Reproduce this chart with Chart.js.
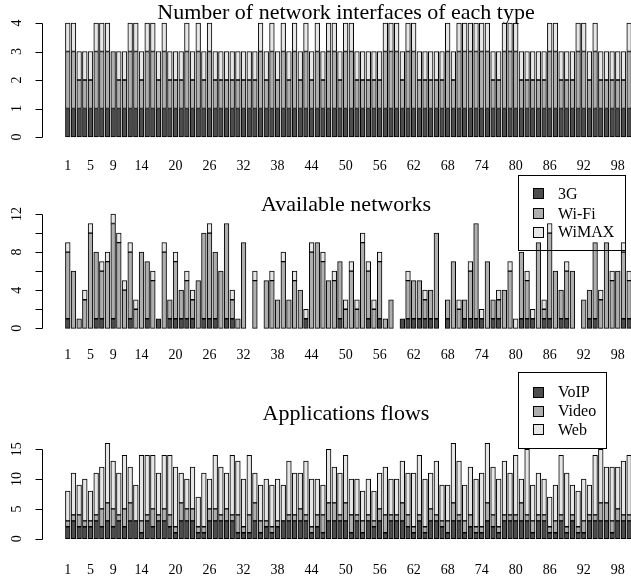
<!DOCTYPE html>
<html>
<head>
<meta charset="utf-8">
<script src="https://cdn.jsdelivr.net/npm/chart.js@4.4.1/dist/chart.umd.min.js"></script>
<style>
  html, body { margin: 0; padding: 0; background: #fff; overflow: hidden; }
  #wrap { position: relative; width: 631px; height: 579px; }
  canvas { position: absolute; left: 0; }
</style>
</head>
<body>
<div id="wrap">
  <canvas id="c1" width="631" height="170" style="top:0px"></canvas>
  <canvas id="c2" width="631" height="190" style="top:170px"></canvas>
  <canvas id="c3" width="631" height="219" style="top:360px"></canvas>
</div>
<script>
// Node identifiers (one bar per node)
const nodes = [
  1,2,3,4,5,6,7,8,9,10,11,12,13,14,15,16,17,18,19,20,
  21,22,23,24,25,26,27,28,29,30,31,32,33,34,35,36,37,38,39,40,
  41,42,43,44,45,46,47,48,49,50,51,52,53,54,55,56,57,58,59,60,
  61,62,63,64,65,66,67,68,69,70,71,72,73,74,75,76,77,78,79,80,
  81,82,83,84,85,86,87,88,89,90,91,92,93,94,95,96,97,98,99,100
];
// Node labels printed under the bars
const xTickLabels = [1,5,9,14,20,26,32,38,44,50,56,62,68,74,80,86,92,98];

// Number of network interfaces of each type
const ifc3G = [
  1,1,1,1,1,1,1,1,1,1, 1,1,1,1,1,1,1,1,1,1, 1,1,1,1,1,1,1,1,1,1, 1,1,1,1,1,1,1,1,1,1,
  1,1,1,1,1,1,1,1,1,1, 1,1,1,1,1,1,1,1,1,1, 1,1,1,1,1,1,1,1,1,1, 1,1,1,1,1,1,1,1,1,1,
  1,1,1,1,1,1,1,1,1,1, 1,1,1,1,1,1,1,1,1,1
];
const ifcWiFi = [
  2,2,1,1,1,2,2,2,2,1, 1,2,2,1,2,2,1,2,1,1, 1,2,1,2,1,2,1,1,1,1, 1,1,1,1,2,1,2,1,2,1,
  2,1,2,1,2,1,2,2,1,2, 2,1,1,1,1,1,2,2,2,1, 2,2,1,1,1,1,1,2,1,2, 2,2,2,2,2,1,1,2,2,2,
  1,1,1,1,1,2,2,1,1,1, 2,2,1,2,1,1,1,1,1,2
];
const ifcWiMAX = [
  1,1,1,1,1,1,1,1,0,1, 1,1,1,1,1,1,1,1,1,1, 1,1,1,1,1,1,1,1,1,1, 1,1,1,1,1,1,1,1,1,1,
  1,1,1,1,1,1,1,1,1,1, 1,1,1,1,1,1,1,1,1,1, 1,1,1,1,1,1,1,1,1,1, 1,1,1,1,1,1,1,1,1,1,
  1,1,1,1,1,1,1,1,1,1, 1,1,1,1,1,1,1,1,1,1
];

// Available networks
const avail3G = [
  1,0,0,0,0,1,1,0,1,0, 0,1,0,0,1,0,1,0,1,1, 1,1,1,0,1,1,1,0,1,1, 0,0,0,0,0,0,0,0,0,0,
  0,0,1,0,0,0,0,0,1,0, 0,0,0,1,0,1,0,0,0,1, 1,1,1,1,1,1,0,1,0,0, 1,1,1,1,0,1,1,0,0,0,
  1,1,1,0,1,1,0,1,1,0, 0,0,1,1,0,0,0,0,1,1
];
const availWiFi = [
  7,6,1,3,10,7,5,7,10,9, 4,7,2,8,6,5,0,8,2,6, 3,4,2,5,9,9,7,6,10,2, 1,9,0,5,0,5,5,3,7,3,
  5,4,0,8,9,7,5,5,6,2, 6,2,9,5,2,6,1,3,0,0, 4,4,4,2,3,9,0,2,7,2, 2,5,10,0,7,2,2,4,6,0,
  7,4,0,9,1,9,6,3,5,6, 0,3,3,8,3,9,5,6,7,4
];
const availWiMAX = [
  1,0,0,1,1,0,1,1,1,1, 1,1,1,0,0,1,0,1,0,1, 0,1,1,0,0,1,0,0,0,1, 0,0,0,1,0,0,1,0,1,0,
  1,0,1,1,0,1,0,1,0,1, 1,1,1,1,1,1,0,0,0,0, 1,0,0,1,0,0,0,0,0,1, 0,1,0,1,0,0,1,0,1,1,
  0,1,1,0,1,1,0,0,1,0, 0,0,0,0,1,0,1,0,1,1
];

// Applications flows
const flowVoIP = [
  2,3,2,2,2,3,2,3,2,3, 2,3,3,1,3,2,3,3,2,1, 3,3,3,1,1,3,3,3,3,3, 1,1,1,3,1,2,1,2,3,3,
  3,3,3,1,2,1,3,3,3,3, 1,3,1,3,2,3,1,3,3,3, 2,1,3,1,3,3,2,1,3,3, 1,2,1,1,3,2,1,3,3,3,
  3,3,1,3,3,1,1,3,1,3, 1,1,3,3,3,3,1,3,3,3
];
const flowVideo = [
  1,1,2,1,1,1,3,3,3,1, 3,3,0,2,1,3,1,2,2,1, 3,2,2,1,1,2,2,1,2,1, 3,1,3,3,2,1,1,1,0,1,
  1,2,1,1,2,3,3,3,1,3, 3,1,2,1,1,2,3,1,1,3, 2,1,1,1,2,1,1,2,3,1, 2,2,1,1,3,2,1,1,1,1,
  3,1,2,1,1,1,2,1,1,1, 1,2,1,1,3,3,2,2,1,1
];
const flowWeb = [
  5,7,5,7,5,7,7,10,8,7, 9,6,6,11,10,9,7,9,10,10, 5,5,7,5,9,5,9,8,6,10, 9,8,10,5,6,7,7,7,6,9,
  7,6,9,8,6,5,9,6,7,8, 6,6,5,6,5,6,8,6,6,7, 7,9,10,8,6,9,6,6,10,9, 6,8,8,9,10,8,8,9,7,10,
  4,11,6,7,6,5,6,10,9,5, 6,7,5,10,9,6,9,7,9,10
];

// Grey ramp shared by the three panels (dark, mid, light)
const GREYS = ['#4D4D4D', '#AEAEAE', '#E6E6E6'];
const SERIF = '"Liberation Serif", "Times New Roman", serif';

// Base-graphics style decorations: detached y axis, rotated tick labels,
// node labels, panel title and an outlined legend.
const baseStyle = {
  id: 'baseStyle',
  afterDatasetsDraw(chart, args, o) {
    const ctx = chart.ctx, ca = chart.chartArea;
    const ys = chart.scales.y, xs = chart.scales.x;
    ctx.save();
    ctx.strokeStyle = '#000';
    ctx.fillStyle = '#000';
    ctx.lineWidth = 1;

    // y axis line and tick marks
    const ax = Math.round(ca.left) + 0.5;
    const yA = Math.round(ys.getPixelForValue(o.yTicks[0])) + 0.5;
    const yB = Math.round(ys.getPixelForValue(o.yTicks[o.yTicks.length - 1])) + 0.5;
    ctx.beginPath();
    ctx.moveTo(ax, yA);
    ctx.lineTo(ax, yB);
    o.yTicks.forEach(v => {
      const y = Math.round(ys.getPixelForValue(v)) + 0.5;
      ctx.moveTo(ax, y);
      ctx.lineTo(ax - 7, y);
    });
    ctx.stroke();

    // y tick labels, parallel to the axis
    ctx.font = '14px ' + SERIF;
    ctx.textAlign = 'center';
    ctx.textBaseline = 'alphabetic';
    o.yTicks.forEach((v, i) => {
      const lab = o.yTickLabels[i];
      if (!lab) return;
      ctx.save();
      ctx.translate(21, ys.getPixelForValue(v));
      ctx.rotate(-Math.PI / 2);
      ctx.fillText(lab, 0, 0);
      ctx.restore();
    });

    // node labels under the bars
    ctx.textBaseline = 'middle';
    o.xLabels.forEach(v => ctx.fillText(String(v), xs.getPixelForValue(v), o.xLabelY));

    // panel title
    ctx.font = '22px ' + SERIF;
    ctx.textBaseline = 'alphabetic';
    ctx.fillText(o.title, 346, o.titleY);

    // legend
    if (o.legend) {
      const L = o.legend;
      ctx.strokeRect(L.x + 0.5, L.y + 0.5, L.w, L.h);
      ctx.font = '16px ' + SERIF;
      ctx.textAlign = 'left';
      ctx.textBaseline = 'middle';
      L.items.forEach((name, i) => {
        const cy = L.rows[i];
        ctx.fillStyle = GREYS[i];
        ctx.fillRect(L.x + 15.5, Math.round(cy - 5) + 0.5, 10, 10);
        ctx.strokeRect(L.x + 15.5, Math.round(cy - 5) + 0.5, 10, 10);
        ctx.fillStyle = '#000';
        ctx.fillText(name, L.x + 40, cy + 1);
      });
    }
    ctx.restore();
  }
};

function series(values) {
  return nodes.map((n, i) => ({ x: n, y: values[i] }));
}

function panel(canvasId, names, seriesList, yMax, pad, deco) {
  return new Chart(document.getElementById(canvasId), {
    type: 'bar',
    data: {
      datasets: seriesList.map((vals, k) => ({
        label: names[k],
        data: series(vals),
        backgroundColor: GREYS[k],
        borderColor: '#000',
        borderWidth: 1,
        borderSkipped: false,
        barThickness: 4.7,
        clip: false
      }))
    },
    options: {
      responsive: false,
      animation: false,
      devicePixelRatio: 1,
      events: [],
      layout: { padding: pad },
      scales: {
        x: { type: 'linear', min: -3.55, max: 100.33, offset: false, stacked: true, display: false },
        y: { min: 0, max: yMax, stacked: true, display: false }
      },
      plugins: {
        legend: { display: false },
        tooltip: { enabled: false },
        title: { display: false },
        baseStyle: deco
      }
    },
    plugins: [baseStyle]
  });
}

panel('c1', ['3G', 'Wi-Fi', 'WiMAX'], [ifc3G, ifcWiFi, ifcWiMAX], 4,
  { left: 42, right: 0, top: 23, bottom: 33 },
  {
    title: 'Number of network interfaces of each type', titleY: 19,
    yTicks: [0, 1, 2, 3, 4], yTickLabels: ['0', '1', '2', '3', '4'],
    xLabels: xTickLabels, xLabelY: 166
  });

panel('c2', ['3G', 'Wi-Fi', 'WiMAX'], [avail3G, availWiFi, availWiMAX], 12,
  { left: 42, right: 0, top: 44, bottom: 31.7 },
  {
    title: 'Available networks', titleY: 41,
    yTicks: [0, 2, 4, 6, 8, 10, 12], yTickLabels: ['0', '', '4', '', '8', '', '12'],
    xLabels: xTickLabels, xLabelY: 185,
    legend: { x: 518, y: 5, w: 107, h: 75, rows: [23.3, 43.3, 61.7], items: ['3G', 'Wi-Fi', 'WiMAX'] }
  });

panel('c3', ['VoIP', 'Video', 'Web'], [flowVoIP, flowVideo, flowWeb], 16,
  { left: 42, right: 0, top: 83.3, bottom: 40.3 },
  {
    title: 'Applications flows', titleY: 60,
    yTicks: [0, 5, 10, 15], yTickLabels: ['0', '5', '10', '15'],
    xLabels: xTickLabels, xLabelY: 210,
    legend: { x: 518, y: 12, w: 88, h: 76, rows: [31.7, 50.7, 69.3], items: ['VoIP', 'Video', 'Web'] }
  });
</script>
</body>
</html>
